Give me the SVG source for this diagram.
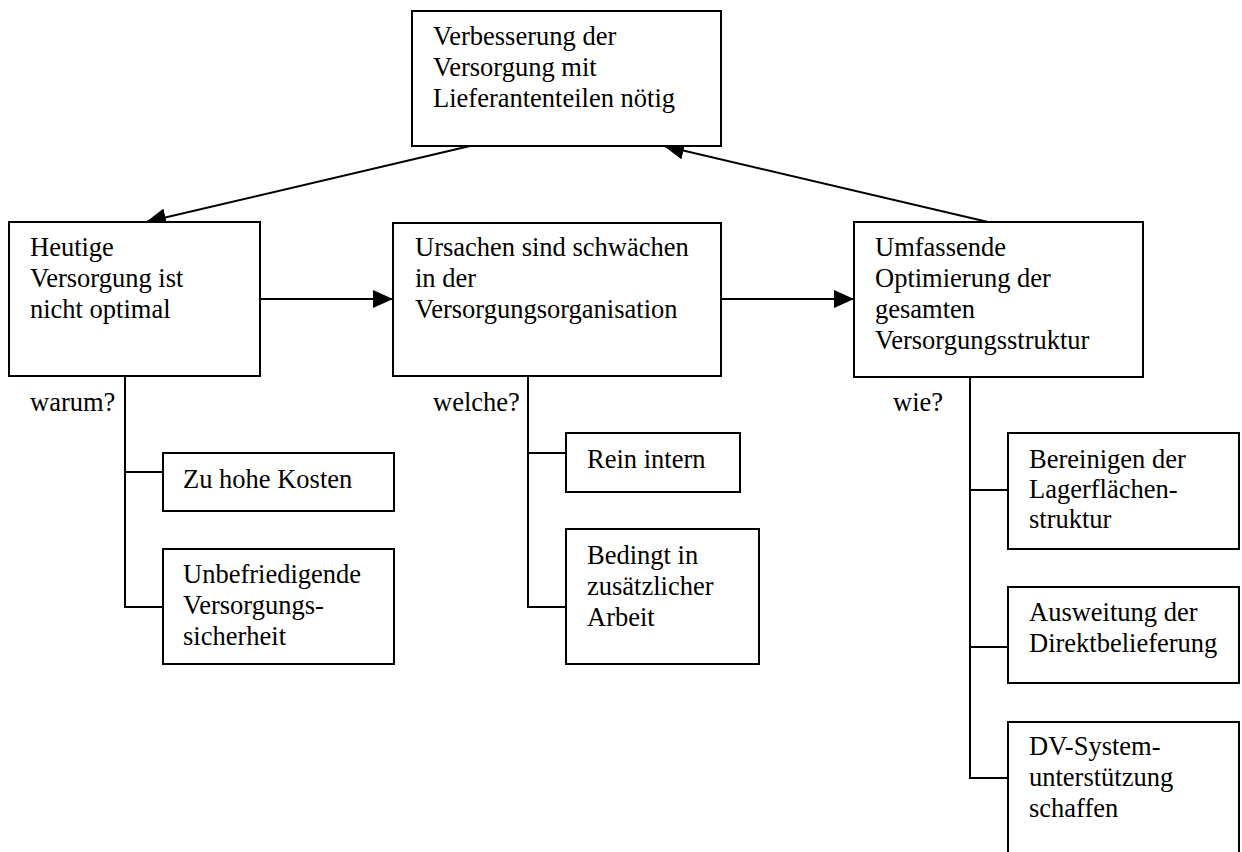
<svg xmlns="http://www.w3.org/2000/svg" width="1242" height="852" viewBox="0 0 1242 852">
<style>
  .box { fill: #fff; stroke: #000; stroke-width: 2; }
  .t { font-family: "Liberation Serif", "Times New Roman", serif; font-size: 26.5px; fill: #000; }
  .c { fill: none; stroke: #000; stroke-width: 2; }
</style>
<defs>
  <marker id="arr" markerUnits="userSpaceOnUse" markerWidth="20" markerHeight="18" refX="20" refY="9" orient="auto">
    <path d="M0,0 L20,9 L0,18 z" fill="#000"/>
  </marker>
</defs>
<rect width="1242" height="852" fill="#fff"/>
<g id="connectors">
  <line class="c" x1="470" y1="146" x2="146" y2="222" marker-end="url(#arr)"/>
  <line class="c" x1="988" y1="222" x2="664" y2="146" marker-end="url(#arr)"/>
  <line class="c" x1="260" y1="299" x2="393" y2="299" marker-end="url(#arr)"/>
  <line class="c" x1="721" y1="299" x2="854" y2="299" marker-end="url(#arr)"/>
  <polyline class="c" points="125,376 125,607 163,607"/>
  <line class="c" x1="125" y1="472" x2="163" y2="472"/>
  <polyline class="c" points="528,376 528,607 566,607"/>
  <line class="c" x1="528" y1="453" x2="566" y2="453"/>
  <polyline class="c" points="970,377 970,778 1008,778"/>
  <line class="c" x1="970" y1="490" x2="1008" y2="490"/>
  <line class="c" x1="970" y1="647" x2="1008" y2="647"/>
</g>
<g id="n-top">
  <rect class="box" x="412" y="11" width="309" height="135"/>
  <text class="t" x="433" y="45">Verbesserung der</text>
  <text class="t" x="433" y="76">Versorgung mit</text>
  <text class="t" x="433" y="107">Lieferantenteilen nötig</text>
</g>
<g id="n-heutige">
  <rect class="box" x="9" y="222" width="251" height="154"/>
  <text class="t" x="30" y="256">Heutige</text>
  <text class="t" x="30" y="287">Versorgung ist</text>
  <text class="t" x="30" y="318">nicht optimal</text>
</g>
<g id="n-ursachen">
  <rect class="box" x="393" y="223" width="328" height="153"/>
  <text class="t" x="415" y="256">Ursachen sind schwächen</text>
  <text class="t" x="415" y="287">in der</text>
  <text class="t" x="415" y="318">Versorgungsorganisation</text>
</g>
<g id="n-umfassende">
  <rect class="box" x="854" y="222" width="289" height="155"/>
  <text class="t" x="875" y="256">Umfassende</text>
  <text class="t" x="875" y="287">Optimierung der</text>
  <text class="t" x="875" y="318">gesamten</text>
  <text class="t" x="875" y="349">Versorgungsstruktur</text>
</g>
<g id="labels">
  <text class="t" x="30" y="411">warum?</text>
  <text class="t" x="433" y="411">welche?</text>
  <text class="t" x="893" y="411">wie?</text>
</g>
<g id="n-kosten">
  <rect class="box" x="163" y="453" width="231" height="58"/>
  <text class="t" x="183" y="488">Zu hohe Kosten</text>
</g>
<g id="n-sicherheit">
  <rect class="box" x="163" y="549" width="231" height="115"/>
  <text class="t" x="183" y="583">Unbefriedigende</text>
  <text class="t" x="183" y="614">Versorgungs-</text>
  <text class="t" x="183" y="645">sicherheit</text>
</g>
<g id="n-intern">
  <rect class="box" x="566" y="433" width="174" height="59"/>
  <text class="t" x="587" y="468">Rein intern</text>
</g>
<g id="n-bedingt">
  <rect class="box" x="566" y="529" width="193" height="135"/>
  <text class="t" x="587" y="564">Bedingt in</text>
  <text class="t" x="587" y="595">zusätzlicher</text>
  <text class="t" x="587" y="626">Arbeit</text>
</g>
<g id="n-bereinigen">
  <rect class="box" x="1008" y="433" width="231" height="116"/>
  <text class="t" x="1029" y="468">Bereinigen der</text>
  <text class="t" x="1029" y="498">Lagerflächen-</text>
  <text class="t" x="1029" y="528">struktur</text>
</g>
<g id="n-ausweitung">
  <rect class="box" x="1008" y="587" width="231" height="96"/>
  <text class="t" x="1029" y="621">Ausweitung der</text>
  <text class="t" x="1029" y="652">Direktbelieferung</text>
</g>
<g id="n-dv">
  <rect class="box" x="1008" y="722" width="231" height="150"/>
  <text class="t" x="1029" y="755">DV-System-</text>
  <text class="t" x="1029" y="786">unterstützung</text>
  <text class="t" x="1029" y="817">schaffen</text>
</g>
</svg>
